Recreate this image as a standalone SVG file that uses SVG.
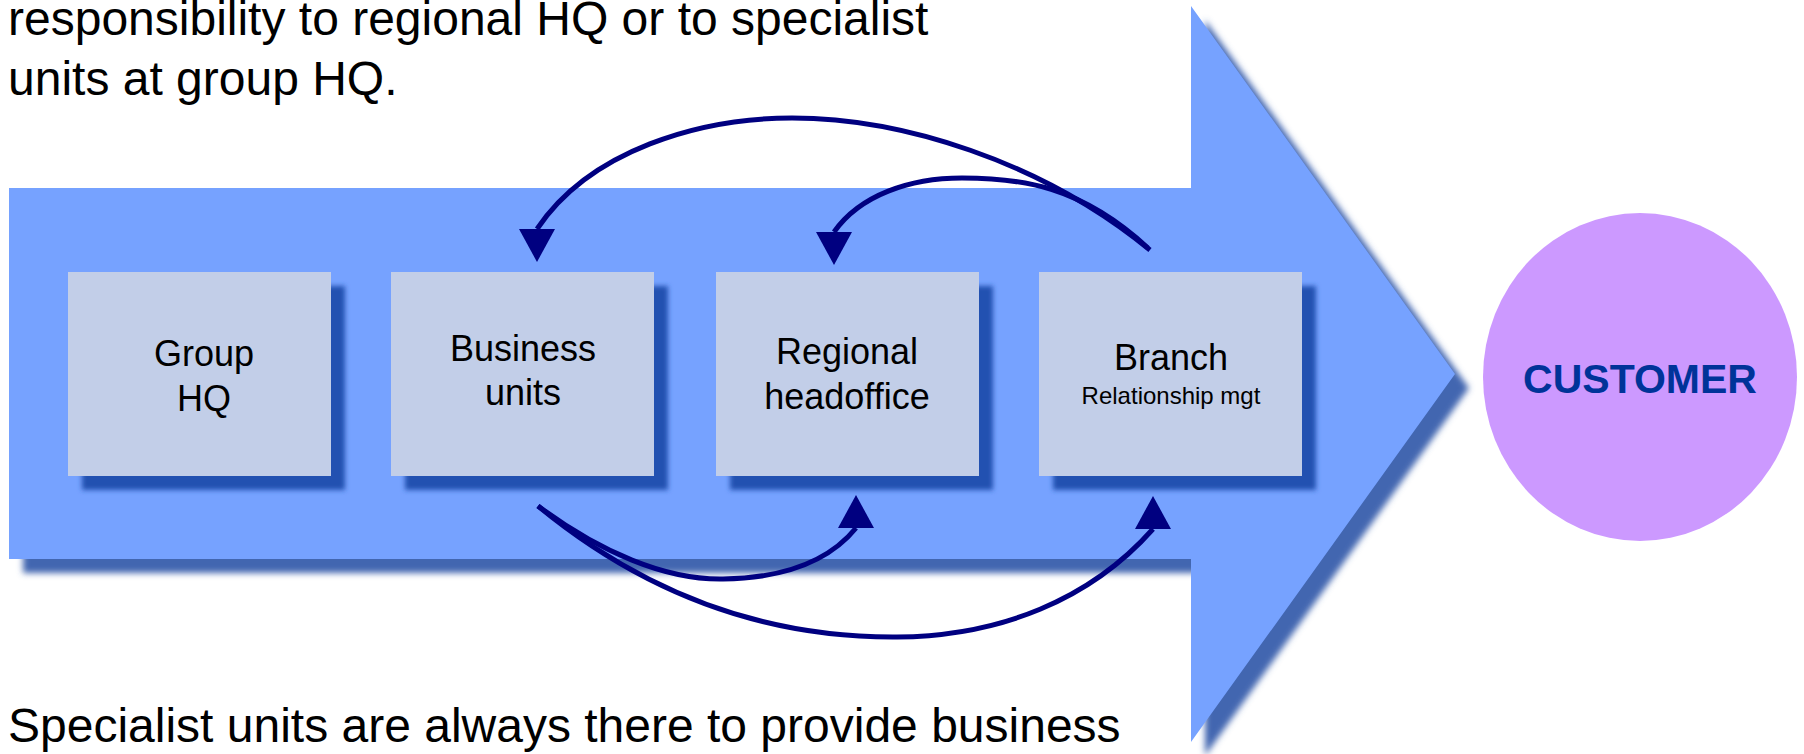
<svg xmlns="http://www.w3.org/2000/svg" width="1804" height="754" viewBox="0 0 1804 754">
  <defs>
    <style>
      .txt { font-family: "Liberation Sans", Arial, sans-serif; fill: #000000; }
      .big { font-size: 48px; }
      .lbl { font-size: 36px; text-anchor: middle; }
      .sub { font-size: 24px; text-anchor: middle; }
      .box { fill: #C2CEE8; }
      .boxshadow { fill: #2351B1; filter: url(#soft); }
      .link { fill: none; stroke: #000080; stroke-width: 5; stroke-linecap: butt; }
    </style>
    <filter id="soft" x="-10%" y="-10%" width="130%" height="130%">
      <feGaussianBlur stdDeviation="2.5"/>
    </filter>
    <filter id="softer" x="-5%" y="-5%" width="115%" height="115%">
      <feGaussianBlur stdDeviation="3"/>
    </filter>
    <marker id="headDown" markerUnits="userSpaceOnUse" viewBox="0 0 33 36" refX="0" refY="18" markerWidth="33" markerHeight="36" orient="90">
      <path d="M0,0 L33,18 L0,36 Z" fill="#000080"/>
    </marker>
    <marker id="headUp" markerUnits="userSpaceOnUse" viewBox="0 0 33 36" refX="0" refY="18" markerWidth="33" markerHeight="36" orient="270">
      <path d="M0,0 L33,18 L0,36 Z" fill="#000080"/>
    </marker>
  </defs>

  <rect width="1804" height="754" fill="#FFFFFF"/>

  <!-- big block arrow (value chain) -->
  <g id="chain-arrow">
    <path d="M9,188 H1191 V6 L1455,374 L1191,742 V559 H9 Z" transform="translate(14,14)" fill="#4266B0" filter="url(#softer)"/>
    <path d="M9,188 H1191 V6 L1455,374 L1191,742 V559 H9 Z" fill="#76A2FF"/>
  </g>

  <!-- captions -->
  <g id="caption-top" class="txt big">
    <text x="8" y="35">responsibility to regional HQ or to specialist</text>
    <text x="8" y="95">units at group HQ.</text>
  </g>
  <g id="caption-bottom" class="txt big">
    <text x="8" y="742">Specialist units are always there to provide business</text>
  </g>

  <!-- organisational levels -->
  <g id="group-hq">
    <rect class="boxshadow" x="82" y="286" width="263" height="204"/>
    <rect class="box" x="68" y="272" width="263" height="204"/>
    <text class="txt lbl" x="204" y="366">Group</text>
    <text class="txt lbl" x="204" y="411">HQ</text>
  </g>
  <g id="business-units">
    <rect class="boxshadow" x="405" y="286" width="263" height="204"/>
    <rect class="box" x="391" y="272" width="263" height="204"/>
    <text class="txt lbl" x="523" y="361">Business</text>
    <text class="txt lbl" x="523" y="405">units</text>
  </g>
  <g id="regional-headoffice">
    <rect class="boxshadow" x="730" y="286" width="263" height="204"/>
    <rect class="box" x="716" y="272" width="263" height="204"/>
    <text class="txt lbl" x="847" y="364">Regional</text>
    <text class="txt lbl" x="847" y="409">headoffice</text>
  </g>
  <g id="branch">
    <rect class="boxshadow" x="1053" y="286" width="263" height="204"/>
    <rect class="box" x="1039" y="272" width="263" height="204"/>
    <text class="txt lbl" x="1171" y="370">Branch</text>
    <text class="txt sub" x="1171" y="404">Relationship mgt</text>
  </g>

  <!-- customer -->
  <g id="customer">
    <ellipse cx="1640" cy="377" rx="157" ry="164" fill="#CC99FF"/>
    <text x="1640" y="393" text-anchor="middle" font-family="Liberation Sans, Arial, sans-serif" font-size="41" font-weight="bold" fill="#003399">CUSTOMER</text>
  </g>

  <!-- escalation and support flows -->
  <g id="connectors">
    <path class="link" d="M1150,250 C1040,160 900,118 792,118 C700,118 590,150 537,229" marker-end="url(#headDown)"/>
    <path class="link" d="M1148,248 C1080,185 1020,178 962,178 C910,178 860,195 834,232" marker-end="url(#headDown)"/>
    <path class="link" d="M538,506 C600,552 665,580 723,579 C785,578 830,560 856,528" marker-end="url(#headUp)"/>
    <path class="link" d="M538,506 C640,590 760,638 897,637 C1000,636 1090,600 1153,529" marker-end="url(#headUp)"/>
  </g>
</svg>
